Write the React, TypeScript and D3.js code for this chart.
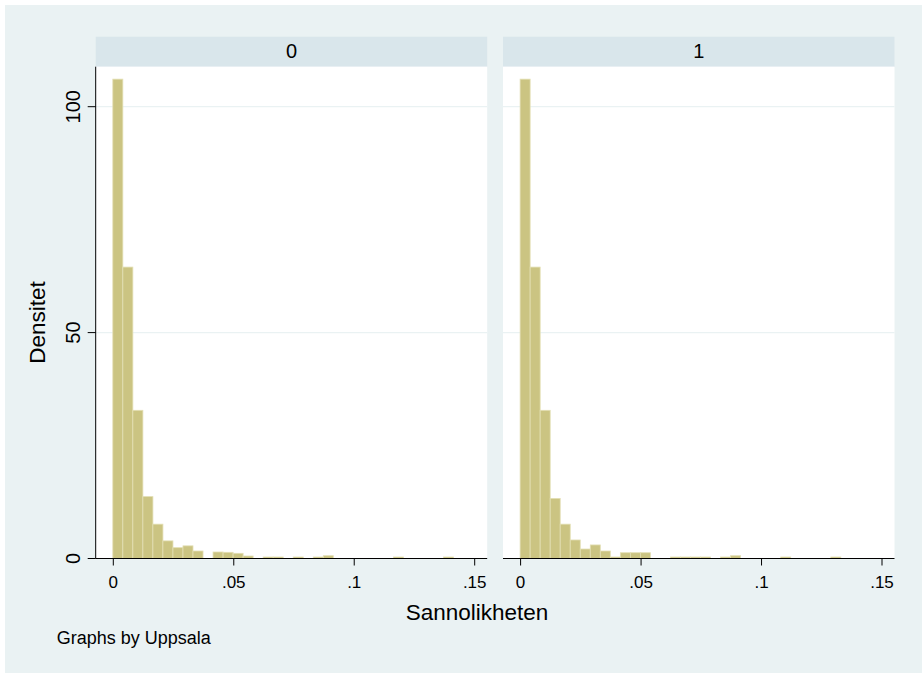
import React from "react";
import * as d3 from "d3";

// histogram of Sannolikheten by Uppsala (0 / 1), density per bin
const panels = ["0", "1"];
const binStart = -0.0002;
const binWidth = 0.00416;
const density0 = [106.1, 64.5, 32.8, 13.7, 7.6, 3.9, 2.4, 2.8, 1.66, 0, 1.44, 1.37, 1.15, 0.55, 0, 0.33, 0.33, 0, 0.33, 0, 0.33, 0.62, 0, 0, 0, 0, 0, 0, 0.33, 0, 0, 0, 0, 0.33];
const density1 = [106.1, 64.5, 32.8, 13.3, 7.6, 4.1, 2.1, 3.0, 1.66, 0.33, 1.28, 1.28, 1.28, 0, 0, 0.33, 0.33, 0.33, 0.33, 0, 0.33, 0.62, 0, 0, 0, 0, 0.33, 0, 0, 0, 0, 0.33];
const densities = [density0, density1];
const xTicks = [0, 0.05, 0.1, 0.15];
const yTicks = [0, 50, 100];
const xTitle = "Sannolikheten";
const yTitle = "Densitet";
const note = "Graphs by Uppsala";

const W = 922;
const H = 673;
const font = "'Liberation Sans', Arial, Helvetica, sans-serif";
const bg = "#eaf2f3";
const stripBg = "#d9e6eb";
const barFill = "#cbc482";
const barLine = "#e3dfb4";

const panelLeft = [95.7, 503];
const panelW = 391.5;
const stripTop = 36.7;
const plotTop = 66.7;
const plotBottom = 558.5;

const fmt = (v: number) => (v === 0 ? "0" : String(v).replace(/^0/, ""));

const App = () => {
  const y = d3.scaleLinear().domain([0, 100]).range([plotBottom, 106.7]);

  return (
    <div style={{ position: "absolute", left: 0, top: 0 }}>
      <svg width={W} height={H} style={{ display: "block", fontFamily: font }}>
        <rect x={0} y={0} width={W} height={H} fill="#fff" />
        <rect x={5} y={5} width={W - 5} height={H - 5} fill={bg} />

        {panels.map((p, pi) => {
          const left = panelLeft[pi];
          const x = d3.scaleLinear().domain([0, 0.15]).range([left + 17.6, left + 379]);
          const bw = x(binWidth) - x(0);
          const data = densities[pi];
          return (
            <g key={p}>
              <rect x={left} y={stripTop} width={panelW} height={plotTop - stripTop} fill={stripBg} />
              <text x={left + panelW / 2} y={58.3} textAnchor="middle" fontSize={20} fill="#000">
                {p}
              </text>
              <rect x={left} y={plotTop} width={panelW} height={plotBottom - plotTop} fill="#fff" />
              {yTicks.slice(1).map((t) => (
                <line key={t} x1={left} x2={left + panelW} y1={y(t)} y2={y(t)} stroke={bg} strokeWidth={1.2} />
              ))}
              {data.map((d, i) =>
                d > 0 ? (
                  <rect
                    key={i}
                    x={x(binStart + i * binWidth)}
                    y={y(d)}
                    width={bw}
                    height={y(0) - y(d)}
                    fill={barFill}
                    stroke={barLine}
                    strokeWidth={0.8}
                  />
                ) : null
              )}
              <line x1={left} x2={left + panelW} y1={plotBottom} y2={plotBottom} stroke="#000" strokeWidth={1} />
              {xTicks.map((t) => (
                <g key={t}>
                  <line x1={x(t)} x2={x(t)} y1={plotBottom} y2={plotBottom + 7} stroke="#000" strokeWidth={1} />
                  <text x={x(t)} y={588.3} textAnchor="middle" fontSize={17} fill="#000">
                    {fmt(t)}
                  </text>
                </g>
              ))}
              {pi === 0 && (
                <g>
                  <line x1={left} x2={left} y1={plotTop} y2={plotBottom} stroke="#000" strokeWidth={1} />
                  {yTicks.map((t) => (
                    <g key={t}>
                      <line x1={left - 8} x2={left} y1={y(t)} y2={y(t)} stroke="#000" strokeWidth={1} />
                      <text
                        transform={`translate(80,${y(t)}) rotate(-90)`}
                        textAnchor="middle"
                        fontSize={20}
                        fill="#000"
                      >
                        {t}
                      </text>
                    </g>
                  ))}
                </g>
              )}
            </g>
          );
        })}

        <text x={477} y={620} textAnchor="middle" fontSize={22.5} fill="#000">
          {xTitle}
        </text>
        <text transform={`translate(45,${(plotTop + plotBottom) / 2 + 10}) rotate(-90)`} textAnchor="middle" fontSize={22.5} fill="#000">
          {yTitle}
        </text>
        <text x={56.7} y={644.3} fontSize={18} fill="#000">
          {note}
        </text>
      </svg>
    </div>
  );
};

export default App;
